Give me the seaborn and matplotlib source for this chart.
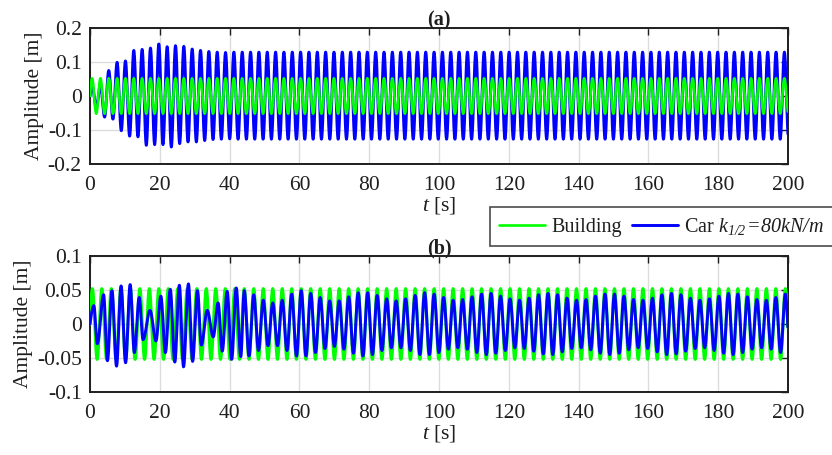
import numpy as np
import pandas as pd
import matplotlib
matplotlib.use("Agg")
import matplotlib.pyplot as plt
from matplotlib.lines import Line2D
import seaborn as sns

# ---------------------------------------------------------------- data
T_END = 200.0                       # record length [s]

# (a) excitation period and building amplitude
PERIOD_A = 2.39                     # [s]
BUILDING_AMP_A = 0.052              # [m]
# car response, alternating peak / trough values per half cycle (start-up)
CAR_A_TRANSIENT = [0.030, -0.035, 0.035, -0.062, 0.075, -0.068, 0.099, -0.102,
                   0.103, -0.118, 0.134, -0.120, 0.137, -0.145, 0.141, -0.143,
                   0.153, -0.143, 0.145, -0.150, 0.148, -0.140, 0.146, -0.135,
                   0.138, -0.135, 0.134, -0.131, 0.131, -0.128, 0.129, -0.127,
                   0.128, -0.126]
CAR_A_STEADY = [0.129, -0.127]      # steady peak / trough [m]

# (b) excitation period and building amplitude
PERIOD_B = 2.72                     # [s]
BUILDING_AMP_B = 0.052              # [m]
# car response during the beating start-up: extremum times and values
CAR_B_TRANS_T = [1.1, 2.1, 3.9, 5.0, 6.3, 7.6, 8.9, 10.2, 11.5, 12.7, 14.1, 15.2,
                 17.2, 18.9, 20.3, 21.6, 23.0, 24.3, 25.6, 26.8, 28.2, 29.4, 30.8,
                 31.9, 33.6, 35.3, 36.7, 37.9, 39.3, 40.6, 41.9, 43.2]
CAR_B_TRANS_V = [0.027, -0.029, 0.043, -0.054, 0.049, -0.062, 0.056, -0.057,
                 0.058, -0.042, 0.039, -0.023, 0.020, -0.025, 0.041, -0.042,
                 0.051, -0.056, 0.057, -0.063, 0.059, -0.055, 0.049, -0.031,
                 0.020, -0.019, 0.031, -0.040, 0.048, -0.052, 0.053, -0.048]
# car response after start-up: extremum magnitudes, one per half cycle
CAR_B_STEADY_AMP = [
    0.049, 0.047, 0.043, 0.039, 0.035, 0.032, 0.031, 0.032, 0.035, 0.039, 0.044, 0.047, 0.049,
    0.047, 0.045, 0.042, 0.039, 0.036, 0.034, 0.033, 0.034, 0.037, 0.040, 0.043, 0.046, 0.047,
    0.046, 0.045, 0.042, 0.039, 0.037, 0.035, 0.034, 0.035, 0.037, 0.039, 0.042, 0.045, 0.046,
    0.045, 0.044, 0.042, 0.039, 0.037, 0.035, 0.035, 0.036, 0.037, 0.040, 0.042, 0.044, 0.045,
    0.045, 0.043, 0.041, 0.039, 0.037, 0.035, 0.035, 0.036, 0.038, 0.040, 0.043, 0.044, 0.045,
    0.045, 0.043, 0.041, 0.038, 0.036, 0.035, 0.035, 0.036, 0.038, 0.041, 0.043, 0.044, 0.045,
    0.044, 0.043, 0.041, 0.038, 0.036, 0.035, 0.035, 0.036, 0.038, 0.041, 0.043, 0.045, 0.045,
    0.044, 0.043, 0.040, 0.038, 0.036, 0.035, 0.035, 0.037, 0.039, 0.041, 0.043, 0.045, 0.045,
    0.044, 0.042, 0.040, 0.037, 0.036, 0.035, 0.035, 0.037, 0.039, 0.042, 0.044, 0.045]

X_TICKS = list(range(0, 201, 20))
Y_TICKS_A = [-0.2, -0.1, 0.0, 0.1, 0.2]
Y_LABELS_A = ["-0.2", "-0.1", "0", "0.1", "0.2"]
Y_TICKS_B = [-0.1, -0.05, 0.0, 0.05, 0.1]
Y_LABELS_B = ["-0.1", "-0.05", "0", "0.05", "0.1"]

GREEN = "#00ff00"
BLUE = "#0000ff"


# ---------------------------------------------------------------- helpers
def trace_through_extrema(t_ext, v_ext, t_end, n=32):
    """Smooth trace from rest at t=0 through successive extrema."""
    t_ext = np.asarray(t_ext, float)
    v_ext = np.asarray(v_ext, float)
    s = np.linspace(0.0, 1.0, n, endpoint=False)
    ts = [t_ext[0] * s]
    ys = [v_ext[0] * np.sin(0.5 * np.pi * s)]
    for i in range(len(t_ext) - 1):
        t0, t1 = t_ext[i], t_ext[i + 1]
        v0, v1 = v_ext[i], v_ext[i + 1]
        ts.append(t0 + (t1 - t0) * s)
        ys.append(0.5 * (v0 + v1) + 0.5 * (v0 - v1) * np.cos(np.pi * s))
    t = np.concatenate(ts)
    y = np.concatenate(ys)
    keep = t <= t_end
    return pd.DataFrame({"t": t[keep], "x": y[keep]})


def extremum_times(period, count, first=None):
    first = period / 4.0 if first is None else first
    return first + 0.5 * period * np.arange(count)


# (a) traces
n_a = int(np.ceil((T_END - PERIOD_A / 4) / (PERIOD_A / 2))) + 2
t_a = extremum_times(PERIOD_A, n_a)
signs_a = np.where(np.arange(n_a) % 2 == 0, 1.0, -1.0)
building_a = trace_through_extrema(t_a, BUILDING_AMP_A * signs_a, T_END)
car_a_vals = list(CAR_A_TRANSIENT)
while len(car_a_vals) < n_a:
    car_a_vals.append(CAR_A_STEADY[len(car_a_vals) % 2])
car_a = trace_through_extrema(t_a, car_a_vals, T_END)

# (b) traces
n_b = int(np.ceil((T_END - PERIOD_B / 4) / (PERIOD_B / 2))) + 2
t_b = extremum_times(PERIOD_B, n_b)
signs_b = np.where(np.arange(n_b) % 2 == 0, 1.0, -1.0)
building_b = trace_through_extrema(t_b, BUILDING_AMP_B * signs_b, T_END)
k0 = len(CAR_B_TRANS_T)
steady_t = t_b[k0:k0 + len(CAR_B_STEADY_AMP)]
steady_v = np.array(CAR_B_STEADY_AMP) * signs_b[k0:k0 + len(CAR_B_STEADY_AMP)]
car_b = trace_through_extrema(np.concatenate([CAR_B_TRANS_T, steady_t]),
                              np.concatenate([CAR_B_TRANS_V, steady_v]), T_END)

# ---------------------------------------------------------------- style
sns.set_theme(style="white")
plt.rcParams["font.family"] = ["Liberation Serif", "DejaVu Serif"]
plt.rcParams["mathtext.fontset"] = "custom"
# math text here is only used for italic symbols, digits included
plt.rcParams["mathtext.rm"] = "Liberation Serif:italic"
plt.rcParams["mathtext.it"] = "Liberation Serif:italic"
plt.rcParams["mathtext.bf"] = "Liberation Serif:bold"

FS = 15.5
FS_LEG = 14.5
INK = "#1e1e1e"
W, H = 832, 455
fig = plt.figure(figsize=(W / 100, H / 100), dpi=100)
ax_a = fig.add_axes([90 / W, 1 - 164 / H, 698 / W, 136 / H])
ax_b = fig.add_axes([90 / W, 1 - 392 / H, 698 / W, 136 / H])

LW_CAR = 2.1
LW_BLD = 1.9

# (a): car below, building on top
sns.lineplot(data=car_a, x="t", y="x", ax=ax_a, color=BLUE, lw=LW_CAR,
             estimator=None, sort=False, zorder=3)
sns.lineplot(data=building_a, x="t", y="x", ax=ax_a, color=GREEN, lw=LW_BLD,
             estimator=None, sort=False, zorder=4)
# (b): building below, car on top
sns.lineplot(data=building_b, x="t", y="x", ax=ax_b, color=GREEN, lw=LW_BLD + 0.3,
             estimator=None, sort=False, zorder=3)
sns.lineplot(data=car_b, x="t", y="x", ax=ax_b, color=BLUE, lw=LW_CAR,
             estimator=None, sort=False, zorder=4)

for ax, yt, yl, ttl in [(ax_a, Y_TICKS_A, Y_LABELS_A, "(a)"),
                        (ax_b, Y_TICKS_B, Y_LABELS_B, "(b)")]:
    ax.set_xlim(0, 200)
    ax.set_ylim(yt[0], yt[-1])
    ax.set_xticks(X_TICKS)
    ax.set_xticklabels([str(v) for v in X_TICKS])
    ax.set_yticks(yt)
    ax.set_yticklabels(yl)
    ax.grid(True, color="#dcdcdc", lw=1.0, zorder=0)
    ax.set_axisbelow(True)
    ax.tick_params(axis="both", direction="in", length=5, width=1.0,
                   top=True, right=True, labelsize=FS, colors=INK,
                   labelcolor=INK)
    ax.tick_params(axis="x", pad=9)
    ax.tick_params(axis="y", pad=6)
    for sp in ax.spines.values():
        sp.set_visible(True)
        sp.set_color(INK)
        sp.set_linewidth(1.4)
    ax.set_xlabel(r"$t$ [s]", fontsize=FS, labelpad=0, color=INK)
    ax.set_ylabel("Amplitude [m]", fontsize=FS, labelpad=3, color=INK)
    ax.set_title(ttl, fontsize=FS - 1, fontweight="bold", pad=2, color=INK)

handles = [Line2D([], [], color=GREEN, lw=LW_BLD),
           Line2D([], [], color=BLUE, lw=LW_CAR)]
labels = ["Building", r"Car $k_{1/2}\!{=}\!80kN/m$"]
# the frame runs on past the right edge of the figure
leg = fig.legend(handles, labels, loc="upper left",
                 bbox_to_anchor=(490 / W, 1 - 207 / H), ncol=2, frameon=True,
                 fancybox=False, fontsize=FS_LEG, handlelength=2.3,
                 handletextpad=0.3, columnspacing=0.5, borderpad=0.45,
                 borderaxespad=0.0)
leg.get_frame().set_edgecolor(INK)
leg.get_frame().set_linewidth(1.2)
for txt in leg.get_texts():
    txt.set_color(INK)

fig.savefig("out.png", dpi=100)
